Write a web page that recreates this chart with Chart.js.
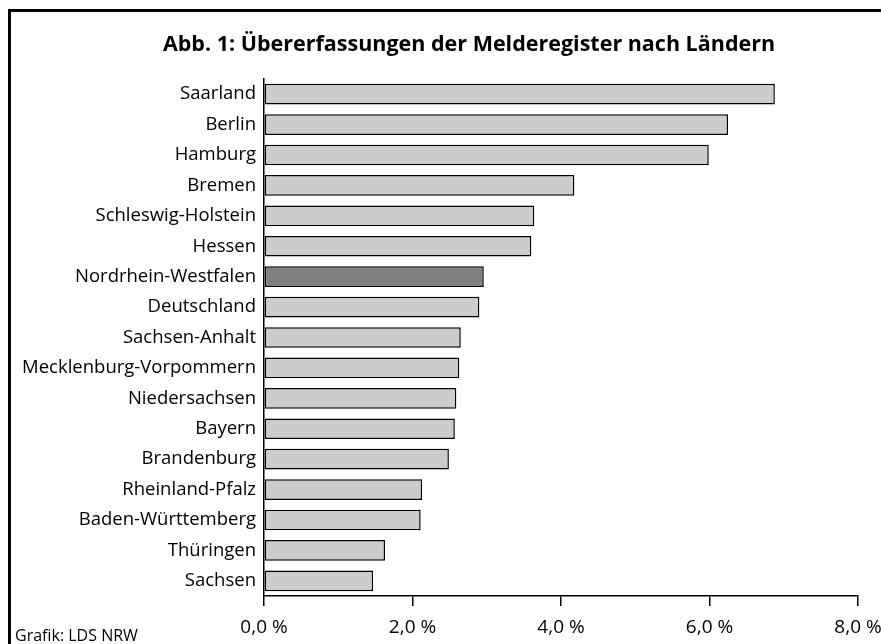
<!DOCTYPE html>
<html>
<head>
<meta charset="utf-8">
<script src="https://cdn.jsdelivr.net/npm/chart.js@4/dist/chart.umd.min.js"></script>
<style>
    html, body { margin: 0; padding: 0; background: #fff; }
    #box { width: 881px; height: 644px; position: relative; }
</style>
</head>
<body>
<div id="box"><canvas id="chart" width="881" height="644"></canvas></div>
<script>
// Chart data
const laender = [
    "Saarland", "Berlin", "Hamburg", "Bremen", "Schleswig-Holstein", "Hessen",
    "Nordrhein-Westfalen", "Deutschland", "Sachsen-Anhalt", "Mecklenburg-Vorpommern",
    "Niedersachsen", "Bayern", "Brandenburg", "Rheinland-Pfalz", "Baden-Württemberg",
    "Thüringen", "Sachsen"
];
const uebererfassung = [
    6.88, 6.25, 5.99, 4.18, 3.64, 3.60,
    2.96, 2.90, 2.65, 2.63,
    2.59, 2.57, 2.49, 2.13, 2.11,
    1.63, 1.47
];
const xTicks = [0, 2, 4, 6, 8];
const highlight = "Nordrhein-Westfalen";
const titleText = "Abb. 1: Übererfassungen der Melderegister nach Ländern";
const sourceNote = "Grafik: LDS NRW";

const fontFamily = "'Open Sans', 'Noto Sans', sans-serif";

// Frame (left and top edge visible, rest runs off), title and source note
const framePlugin = {
    id: "frame",
    afterDraw(chart) {
        const c = chart.ctx;
        c.save();
        c.strokeStyle = "#000";
        c.lineWidth = 3;
        c.beginPath();
        c.moveTo(9.5, 700);
        c.lineTo(9.5, 10.5);
        c.lineTo(900, 10.5);
        c.stroke();

        c.fillStyle = "#000";
        // title sits right of the canvas centre in the original
        c.font = "bold 21.5px " + fontFamily;
        c.textAlign = "center";
        c.textBaseline = "middle";
        c.fillText(titleText, 469, 45);

        c.font = "16px " + fontFamily;
        c.textAlign = "left";
        c.textBaseline = "alphabetic";
        c.fillText(sourceNote, 15, 641);
        c.restore();
    }
};

const barColors = laender.map(l => l === highlight ? "#808080" : "#cccccc");

const ctx = document.getElementById("chart");
new Chart(ctx, {
    type: "bar",
    data: {
        labels: laender,
        datasets: [{
            label: "Übererfassung",
            data: uebererfassung,
            backgroundColor: barColors,
            borderColor: "#000",
            borderWidth: 1.5,
            borderSkipped: false,
            barPercentage: 0.68,
            categoryPercentage: 1.0
        }]
    },
    options: {
        indexAxis: "y",
        responsive: false,
        animation: false,
        layout: {
            padding: { left: 10, right: 23, top: 79, bottom: 0 }
        },
        plugins: {
            legend: { display: false },
            tooltip: { enabled: false },
            title: { display: false }
        },
        scales: {
            x: {
                min: 0,
                max: 8,
                afterBuildTicks(scale) {
                    scale.ticks = xTicks.map(v => ({ value: v }));
                },
                afterFit(scale) {
                    scale.height = 48;
                    scale.paddingLeft = 0;
                    scale.paddingRight = 0;
                },
                ticks: {
                    color: "#000",
                    font: { family: fontFamily, size: 19, lineHeight: 1.1 },
                    padding: 11,
                    maxRotation: 0,
                    callback: v => v.toFixed(1).replace(".", ",") + " %"
                },
                grid: {
                    drawOnChartArea: false,
                    drawTicks: true,
                    tickLength: 10,
                    color: "#000",
                    lineWidth: 1.5
                },
                border: { display: true, color: "#000", width: 1.5 }
            },
            y: {
                afterFit(scale) {
                    scale.width = 254;
                },
                ticks: {
                    color: "#000",
                    font: { family: fontFamily, size: 18.5 },
                    padding: 8
                },
                grid: { display: false, drawTicks: false },
                border: { display: true, color: "#000", width: 1.5 }
            }
        }
    },
    plugins: [framePlugin]
});
</script>
</body>
</html>
